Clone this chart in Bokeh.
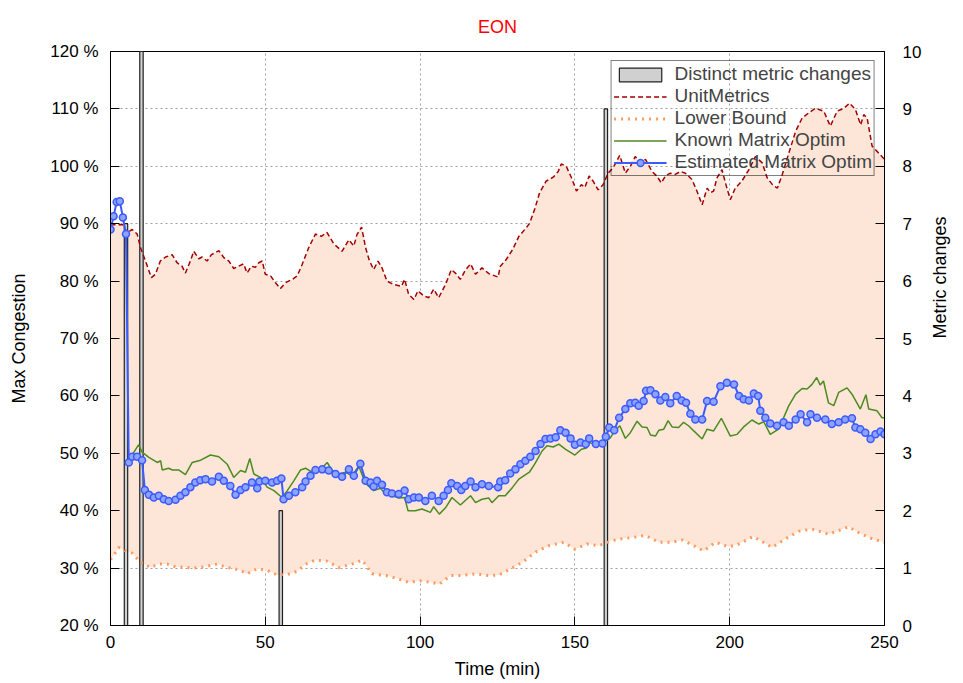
import math
from bokeh.plotting import figure
from bokeh.models import (Range1d, LinearAxis, FixedTicker, PrintfTickFormatter,
                          Legend, LegendItem)
from bokeh.embed import file_html
from bokeh.resources import INLINE

# ---------------- data ----------------
title_text = "EON"
x_label = "Time (min)"
y_label = "Max Congestion"
y2_label = "Metric changes"

# Distinct metric changes (right axis)
bar_t = [5, 10, 55, 160]
bar_v = [7, 10, 2, 9]

# UnitMetrics (upper)
unit_t = [0, 2, 4, 5.4, 7, 8.6, 9.7, 11.3, 13.2, 14.5, 16.1, 17.8, 19.9, 21.5, 23.1, 24.2,
          25.8, 26.9, 28.5, 29.6, 31.2, 32.6, 35, 36.6, 38.2, 39.8, 41.4, 43, 44.1, 45.5,
          46.8, 47.9, 49, 50, 51.7, 53.3, 54.9, 56.5, 58.7, 60.3, 61.9, 64, 66.2, 68.1,
          69.9, 72.1, 74.8, 77, 78.6, 79.6, 81.1, 82.4, 83.6, 85, 86.4, 87.7, 89.3, 91.5,
          94, 95, 96.3, 98, 99.3, 101.2, 102.8, 104.4, 106, 108.2, 110.1, 111.4, 113, 114.6,
          116.3, 117.9, 120, 122.2, 125.2, 125.9, 127.5, 129.9, 131.9, 134.3, 135.4, 137,
          138.6, 140.7, 143, 144.6, 145.6, 147.2, 148.9, 150.5, 152.1, 153.2, 154.6, 155.9,
          157.5, 159.1, 160.7, 162.3, 164.5, 166.3, 167.9, 169.5, 171.1, 172.8, 174.9, 176.5,
          177.9, 179.2, 180.8, 182.4, 184.1, 185.7, 187.8, 189.4, 191.1, 192.7, 193.8, 194.8,
          195.9, 197.5, 199.1, 200.2, 201.8, 203.9, 206.2, 208.3, 210.5, 212.1, 213.8, 215.4,
          217, 219.1, 221.3, 223.4, 225.5, 227.7, 230.4, 232.5, 234.7, 236.9, 238.7, 240.6,
          242.3, 243.3, 244.4, 246, 247.6, 250]
unit_v = [89.8, 89.8, 89.8, 88.4, 89.0, 88.2, 85.8, 83.5, 80.6, 81.2, 83.5, 84.2, 84.6, 83.2,
          82.6, 81.4, 83.5, 85.2, 83.9, 84.2, 83.5, 84.6, 85.3, 84.1, 83.5, 82.2, 82.6, 83.0,
          81.4, 82.6, 82.4, 83.2, 83.5, 81.2, 80.9, 79.7, 78.7, 79.7, 80.3, 80.9, 82.9, 85.8,
          88.2, 87.8, 88.5, 86.5, 85.2, 87.2, 86.1, 88.1, 89.4, 85.8, 83.6, 82.0, 83.5, 82.3,
          80.0, 79.4, 79.1, 80.3, 77.7, 76.8, 78.3, 77.4, 77.1, 78.6, 77.1, 79.4, 82.0, 81.4,
          80.3, 81.9, 83.0, 81.2, 82.3, 81.3, 80.7, 82.6, 83.5, 85.5, 87.8, 89.3, 90.1, 92.5,
          95.4, 97.4, 98.1, 99.1, 100.4, 100.0, 98.0, 95.7, 96.8, 96.3, 98.3, 97.4, 95.9, 96.8,
          98.8, 99.7, 101.9, 98.8, 100.0, 101.7, 100.6, 101.2, 99.1, 98.3, 97.1, 98.3, 98.8,
          98.6, 99.1, 98.8, 97.7, 95.7, 93.3, 96.2, 95.4, 95.7, 98.0, 99.4, 96.2, 94.2, 96.2,
          97.4, 99.4, 101.7, 100.6, 98.0, 96.8, 96.2, 98.6, 102.3, 106.1, 108.4, 109.3, 110.1,
          109.6, 107.0, 109.6, 110.1, 111.0, 109.9, 107.2, 109.0, 108.4, 103.5, 102.6, 101.2]

# Lower Bound
lower_t = [0, 1.5, 2.7, 4.5, 7, 9.7, 12.9, 15.5, 18.3, 21, 23.7, 26.5, 29, 31.8, 34.5, 37,
           39.8, 42, 44.1, 47.4, 50.6, 53.8, 58.1, 60.5, 63, 66.2, 70, 73.7, 78, 81.3, 84.5,
           89, 93.1, 96.3, 100, 104, 106.2, 109.8, 113.4, 117.8, 122.2, 125.4, 128.6, 133,
           137.3, 141.6, 146.4, 150, 154, 157.7, 162, 165.2, 169.5, 172.8, 177.1, 181.4,
           184.7, 188.4, 191.6, 195.4, 199.7, 202.9, 207.6, 213.7, 218, 222.3, 226.6, 232,
           238.4, 241.6, 246, 250]
lower_v = [31.5, 32.6, 33.6, 33.1, 32.6, 31.0, 30.1, 30.7, 30.7, 30.2, 30.2, 30.0, 30.1, 30.4,
           30.7, 30.2, 29.9, 29.6, 29.0, 29.9, 29.6, 28.8, 29.0, 29.5, 30.7, 31.4, 31.2, 30.1,
           30.7, 31.4, 29.0, 28.7, 28.1, 27.5, 27.8, 27.5, 27.2, 28.7, 28.7, 29.0, 28.7, 28.8,
           29.7, 31.0, 32.8, 33.9, 34.5, 33.3, 34.2, 33.9, 34.8, 35.1, 35.4, 35.7, 34.5, 34.5,
           34.9, 33.9, 33.0, 34.5, 33.7, 34.2, 35.5, 33.6, 35.1, 36.4, 36.8, 35.9, 37.2, 36.2,
           35.1, 34.5]

# Known Matrix Optim
known_t = [6.5, 9.1, 10.2, 12.4, 15.1, 16.2, 16.7, 18.8, 20, 22, 24.2, 26.4, 29.1, 32.3, 35,
           37.7, 39.8, 42, 43.6, 45, 46.3, 48.4, 50.6, 52.8, 55.4, 57.1, 59.2, 61.4, 63, 65.1,
           67.3, 68.9, 70, 71.6, 73.7, 75.9, 78, 80.2, 82.3, 85, 87.2, 88.8, 91, 93.1, 95,
           96.1, 98.5, 100.6, 103.3, 104.4, 106.2, 108.2, 110.3, 113, 116.3, 117.9, 120,
           122.2, 123.2, 125.4, 127.5, 129.9, 131.9, 135.3, 137, 139.4, 141, 143, 144.8, 147,
           150, 152.1, 153.7, 154.8, 156.9, 159.1, 161.3, 162.9, 164.5, 166.3, 167.9, 170.1,
           171.7, 173.3, 174.4, 176, 177.1, 178.7, 180.1, 181.4, 183.5, 185.1, 186.7, 188.4,
           191.1, 192.7, 194.8, 197.3, 200.2, 202.4, 204.5, 207.2, 209.4, 211, 213.1, 215.8,
           219.1, 221.3, 223.4, 225, 226.6, 228.1, 229.2, 230.3, 231.9, 233.6, 235.2, 237.9,
           239.5, 242.2, 244, 244.9, 247.6, 249.2, 250]
known_v = [49.3, 51.5, 50.2, 49.3, 48.4, 48.7, 47.1, 47.4, 47.1, 47.1, 46.3, 48.4, 48.8, 49.7,
           49.4, 48.1, 45.8, 47.0, 46.7, 49.1, 46.4, 45.8, 44.1, 43.5, 42.3, 43.5, 45.2, 47.1,
           47.4, 46.7, 47.1, 47.8, 48.4, 47.0, 46.4, 46.7, 46.1, 47.8, 44.8, 43.5, 43.9, 42.9,
           42.6, 42.2, 42.3, 40.0, 40.0, 40.3, 39.7, 40.7, 39.4, 40.5, 42.3, 41.0, 42.6, 41.4,
           42.0, 42.2, 41.4, 42.6, 42.6, 44.1, 45.5, 46.7, 48.1, 50.4, 51.3, 51.1, 51.6, 50.7,
           49.7, 50.7, 50.9, 51.9, 51.3, 51.9, 52.6, 53.9, 54.8, 52.6, 53.6, 55.6, 54.6, 54.5,
           53.2, 53.0, 54.0, 54.2, 55.7, 54.6, 54.5, 55.4, 54.8, 53.9, 52.5, 54.2, 53.9, 56.1,
           53.0, 53.3, 54.6, 55.8, 55.1, 55.5, 53.3, 54.2, 58.3, 60.3, 61.3, 61.2, 62.0, 63.2,
           61.9, 62.6, 58.8, 58.3, 60.6, 61.4, 60.3, 57.7, 60.2, 57.7, 57.4, 56.2, 56.2]

# Estimated Matrix Optim
est_t = [0, 1, 2, 3, 4, 5, 5.9, 7, 8.6, 10.2, 11.1, 12.4, 14, 15.6, 17.2, 18.8, 21, 22.6, 24.2,
         25.8, 27.4, 29, 30.7, 32.8, 35, 36.6, 38.7, 40.4, 42, 43.6, 45.7, 47.4, 48.1, 50, 52.2,
         53.8, 55.2, 55.9, 57.6, 59.7, 61.9, 63, 64.6, 66.2, 68.4, 70.5, 72.7, 74.8, 77, 78.6,
         80.7, 82.4, 84, 85, 86.1, 87.7, 89.3, 90.9, 93.1, 95, 96.3, 98, 99.6, 101.7, 103.8,
         106, 107.6, 109, 110.1, 112, 113.3, 114.6, 116.3, 117.9, 120, 122.2, 125.2, 125.9,
         127.5, 129.1, 130.8, 132.4, 134, 135.6, 137.3, 138.9, 140.5, 142.1, 143.8, 145.3, 147,
         148.6, 150, 151.8, 153.5, 154.6, 156.8, 158.9, 160, 161.1, 162.7, 164.3, 166.3, 167.9,
         169.5, 170.6, 172.2, 173, 174.4, 176, 177.6, 179.2, 180.8, 182.9, 184.5, 185.9, 187.3,
         188.9, 191.1, 192.7, 194.8, 197, 199.1, 201.4, 203, 204.5, 206.2, 207.8, 209.2, 209.9,
         211.5, 213.1, 215.3, 217.4, 219.1, 221.3, 222.9, 225, 226.1, 228.2, 230.9, 233, 235.2,
         237.3, 239.5, 240.6, 242.2, 243.8, 245.5, 247.1, 248.7, 250]
est_v = [89.0, 91.3, 93.8, 93.9, 91.1, 88.2, 48.4, 49.4, 49.4, 48.8, 43.6, 42.8, 42.3, 42.6,
         42.0, 41.7, 41.9, 42.6, 43.2, 44.1, 44.9, 45.3, 45.5, 45.1, 45.9, 45.2, 44.3, 42.8,
         43.6, 44.1, 44.9, 43.9, 45.1, 45.2, 44.9, 45.2, 45.6, 42.0, 42.6, 43.2, 44.1, 45.1,
         46.1, 47.1, 47.2, 47.0, 46.4, 45.9, 47.2, 46.1, 48.2, 45.2, 44.9, 44.2, 45.2, 44.5,
         43.2, 43.0, 42.9, 43.5, 42.0, 42.3, 42.3, 41.7, 42.6, 41.7, 42.6, 43.6, 44.8, 44.3,
         43.6, 44.3, 45.1, 44.1, 44.6, 44.3, 44.1, 45.1, 45.3, 46.5, 47.2, 48.1, 48.7, 49.4,
         50.4, 51.6, 52.5, 52.6, 52.8, 54.0, 53.6, 52.6, 51.5, 51.9, 51.6, 52.6, 51.6, 51.7,
         52.9, 54.5, 54.0, 56.2, 57.7, 58.7, 58.8, 58.3, 59.1, 60.9, 61.0, 60.3, 59.2, 59.8,
         58.7, 60.0, 59.2, 58.8, 56.9, 55.9, 55.9, 59.1, 59.0, 61.7, 62.3, 62.0, 60.0, 59.4,
         59.2, 60.4, 60.0, 57.4, 56.2, 55.2, 54.8, 55.4, 54.8, 55.9, 56.8, 55.4, 56.8, 56.2,
         55.9, 55.1, 55.4, 55.9, 56.1, 54.5, 54.2, 53.6, 52.5, 53.3, 53.8, 53.3]

x_ticks = [0, 50, 100, 150, 200, 250]
y_ticks = [20, 30, 40, 50, 60, 70, 80, 90, 100, 110, 120]
y2_ticks = [0, 1, 2, 3, 4, 5, 6, 7, 8, 9, 10]

# ---------------- figure ----------------
FONT = "Liberation Sans"

p = figure(width=963, height=683, output_backend="svg", toolbar_location=None,
           x_range=Range1d(0, 250), y_range=Range1d(20, 120),
           min_border_left=110, min_border_right=79, min_border_top=50, min_border_bottom=58)
p.extra_y_ranges = {"metric": Range1d(0, 10)}

p.title.text = title_text
p.title.align = "center"
p.title.text_color = "red"
p.title.text_font = FONT
p.title.text_font_size = "18px"
p.title.text_font_style = "normal"
p.title.standoff = 29

p.outline_line_color = "black"
p.outline_line_width = 1
p.background_fill_color = "white"
p.border_fill_color = "white"

# shaded area between lower bound and UnitMetrics
patch_x = unit_t + lower_t[::-1]
patch_y = unit_v + lower_v[::-1]
p.patch(patch_x, patch_y, fill_color="#fde5d8", line_color=None)

# bars
bars = p.vbar(x=bar_t, top=bar_v, bottom=0, width=1.1, y_range_name="metric",
              fill_color="#d0d0d0", line_color="#202020", line_width=1.2)

r_unit = p.line(unit_t, unit_v, line_color="#a30000", line_width=1.5, line_dash="5 3")
r_lower = p.line(lower_t, lower_v, line_color="#ff9a5c", line_width=3, line_dash="2 5")
r_known = p.line(known_t, known_v, line_color="#4b8b20", line_width=1.5)
r_est_l = p.line(est_t, est_v, line_color="#3b5bff", line_width=2)
r_est_m = p.scatter(est_t, est_v, size=7, marker="circle", fill_color="#8ea2ff",
                    line_color="#3b5bff", line_width=1.5)

# axes
p.xaxis.ticker = FixedTicker(ticks=x_ticks)
p.yaxis.ticker = FixedTicker(ticks=y_ticks)
p.yaxis.formatter = PrintfTickFormatter(format="%d %%")
p.xaxis.axis_label = x_label
p.yaxis.axis_label = y_label

y2 = LinearAxis(y_range_name="metric", ticker=FixedTicker(ticks=y2_ticks), axis_label=y2_label)
p.add_layout(y2, "right")

for ax in [p.xaxis[0], p.yaxis[0], y2]:
    ax.major_tick_in = 9
    ax.major_tick_out = 0
    ax.minor_tick_in = 0
    ax.minor_tick_out = 0
    ax.axis_line_color = "black"
    ax.major_tick_line_color = "black"
    ax.major_label_text_font = FONT
    ax.major_label_text_font_size = "17px"
    ax.major_label_text_color = "black"
    ax.axis_label_text_font = FONT
    ax.axis_label_text_font_size = "18px"
    ax.axis_label_text_font_style = "normal"
    ax.axis_label_text_color = "black"

p.xaxis.major_label_standoff = 10
p.xaxis.axis_label_standoff = 8
p.yaxis.major_label_standoff = 12
p.yaxis.axis_label_standoff = 18
y2.major_label_standoff = 18
y2.axis_label_standoff = 16
y2.axis_label_orientation = math.pi / 2

# grid
p.xgrid.ticker = FixedTicker(ticks=x_ticks)
p.ygrid.ticker = FixedTicker(ticks=y_ticks)
for g in [p.xgrid[0], p.ygrid[0]]:
    g.grid_line_color = "#a0a0a0"
    g.grid_line_dash = "2 3"
    g.grid_line_width = 1

# legend
legend = Legend(items=[
    LegendItem(label="Distinct metric changes", renderers=[bars]),
    LegendItem(label="UnitMetrics", renderers=[r_unit]),
    LegendItem(label="Lower Bound", renderers=[r_lower]),
    LegendItem(label="Known Matrix Optim", renderers=[r_known]),
    LegendItem(label="Estimated Matrix Optim", renderers=[r_est_l, r_est_m]),
], location="top_right")
legend.background_fill_alpha = 0
legend.border_line_color = "black"
legend.border_line_width = 1
legend.label_text_font = FONT
legend.label_text_font_size = "19px"
legend.label_height = 17
legend.glyph_height = 17
legend.glyph_width = 53
legend.spacing = 0
legend.padding = 2
legend.margin = 9
legend.label_standoff = 8
p.add_layout(legend)

open("out.html", "w").write(file_html(p, INLINE))
